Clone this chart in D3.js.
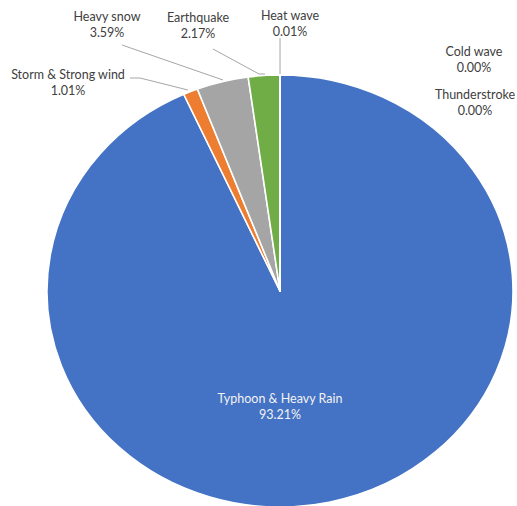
<!DOCTYPE html>
<html>
<head>
<meta charset="utf-8">
<script src="https://cdn.jsdelivr.net/npm/d3@7"></script>
<style>
  html, body { margin: 0; padding: 0; background: #fff; }
  svg { display: block; }
  text { font-family: Lato, "Open Sans", sans-serif; font-size: 12.5px; }
</style>
</head>
<body>
<svg id="chart" width="517" height="506"></svg>
<script>
// Share of damage by disaster type (%)
const categories = ["Typhoon & Heavy Rain", "Storm & Strong wind", "Heavy snow", "Earthquake", "Heat wave", "Cold wave", "Thunderstroke"];
const shares = [93.21, 1.01, 3.59, 2.17, 0.01, 0.00, 0.00];
const colors = ["#4472C4", "#ED7D31", "#A5A5A5", "#70AD47", "#FFC000", "#5B9BD5", "#264478"];

// label anchor points (text centre) and leader polylines for the outer labels
const labelPos = [
  [280, 399], [68, 75], [107, 17], [198, 18], [290, 16], [474, 52], [475, 95]
];
const leaders = [
  null,
  [[130, 78], [140, 78], [188, 90]],
  [[122, 45], [223, 80]],
  [[213, 49], [259, 74], [265, 74]],
  [[280, 38], [280, 74]],
  null,
  null
];

const data = categories.map((c, i) => ({ name: c, value: shares[i], color: colors[i], pos: labelPos[i], leader: leaders[i] }));

const svg = d3.select("#chart");
const cx = 280, cy = 291, rx = 233, ry = 216;

const pie = d3.pie().sort(null).value(d => d.value);
const arc = d3.arc().innerRadius(0).outerRadius(rx);

const g = svg.append("g").attr("transform", `translate(${cx},${cy}) scale(1,${ry / rx})`);
g.selectAll("path")
  .data(pie(data))
  .join("path")
  .attr("d", arc)
  .attr("fill", d => d.data.color)
  .attr("stroke", "#fff")
  .attr("stroke-width", 1.6)
  .attr("stroke-linejoin", "round");

// leader lines
const line = d3.line();
svg.selectAll("path.leader")
  .data(data.filter(d => d.leader))
  .join("path")
  .attr("class", "leader")
  .attr("d", d => line(d.leader))
  .attr("fill", "none")
  .attr("stroke", "#A6A6A6")
  .attr("stroke-width", 1);

// labels: name and percentage
const fmt = d3.format(".2f");
const labels = svg.selectAll("text.lbl")
  .data(data)
  .join("text")
  .attr("class", "lbl")
  .attr("text-anchor", "middle")
  .attr("fill", (d, i) => i === 0 ? "#F2F2F2" : "#404040")
  .attr("transform", d => `translate(${d.pos[0]},${d.pos[1]})`);
labels.append("tspan").attr("x", 0).attr("dy", "0.35em").text(d => d.name);
labels.append("tspan").attr("x", 0).attr("dy", "15.5").text(d => fmt(d.value) + "%");
</script>
</body>
</html>
